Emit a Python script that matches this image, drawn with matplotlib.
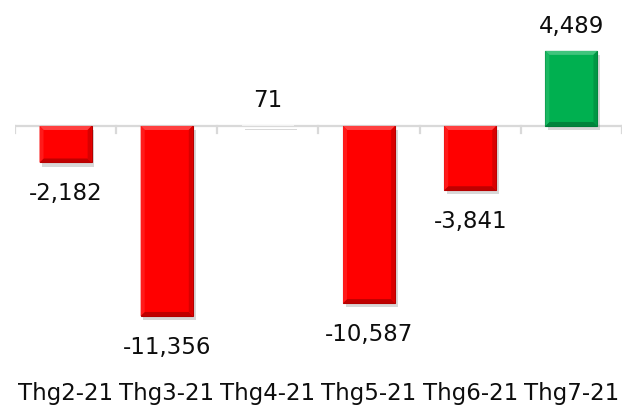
import numpy as np
import matplotlib.pyplot as plt
import matplotlib.patheffects as pe
from matplotlib.patches import Polygon


# DATA

months = ["Thg2-21", "Thg3-21", "Thg4-21", "Thg5-21", "Thg6-21", "Thg7-21"]
values = [-2182, -11356, 71, -10587, -3841, 4489]

RED = "#ff0000"
GREEN = "#00b050"
FS = 16.5


# FIGURE

fig = plt.figure(figsize=(6.35, 4.12), dpi=100)
ax = fig.add_axes([0.0236, 0.1748, 0.9559, 0.8252])

ymin, ymax = -12791, 7531
ax.set_xlim(-0.5, len(months) - 0.5)
ax.set_ylim(ymin, ymax)
ax.axis("off")

# px -> data unit helpers
px_y = (ymax - ymin) / 340.0
px_x = len(months) / 607.0

width = 0.515
shadow = [pe.SimplePatchShadow(offset=(2, -3), shadow_rgbFace="#7f7f7f", alpha=0.3),
          pe.Normal()]

# baseline and tick marks between categories
ax.plot([-0.5, len(months) - 0.5], [0, 0], color="#d9d9d9", lw=1.6, zorder=1)
for b in np.arange(-0.5, len(months), 1.0):
    ax.plot([b, b], [0, -7 * px_y], color="#d9d9d9", lw=1.6, zorder=1)


def shade(c, k):
    c = np.array(plt.matplotlib.colors.to_rgb(c))
    if k > 0:
        return tuple(c + (1 - c) * k)
    return tuple(c * (1 + k))


for i, v in enumerate(values):
    color = GREEN if v >= 0 else RED
    x0, x1 = i - width / 2, i + width / 2
    lo, hi = min(0, v), max(0, v)
    tiny = (hi - lo) < 6 * px_y
    face = "#f2f2f2" if tiny else color
    bars = ax.bar(i, v, width=width, color=face,
                  edgecolor="none" if tiny else shade(color, -0.3),
                  lw=0.8, zorder=2)
    for b in bars:
        b.set_path_effects(shadow)

    # bevel edges
    if not tiny:
        bx = 4 * px_x
        by = 4 * px_y
        bevel = [
            ([(x0, hi), (x1, hi), (x1 - bx, hi - by), (x0 + bx, hi - by)], 0.25),
            ([(x0, lo), (x1, lo), (x1 - bx, lo + by), (x0 + bx, lo + by)], -0.25),
            ([(x0, lo), (x0, hi), (x0 + bx, hi - by), (x0 + bx, lo + by)], 0.1),
            ([(x1, lo), (x1, hi), (x1 - bx, hi - by), (x1 - bx, lo + by)], -0.15),
        ]
        for pts, k in bevel:
            ax.add_patch(Polygon(pts, closed=True, facecolor=shade(color, k),
                                 edgecolor="none", zorder=3))

    # value label, baseline placed so the digits sit centred off the bar end
    ty = v + 18 * px_y if v >= 0 else v - 38 * px_y
    ax.text(i, ty, f"{v:,}", ha="center", va="baseline", fontsize=FS,
            color="#0d0d0d")

# category labels
for i, m in enumerate(months):
    ax.text(i, -(400 - 126) * px_y, m, ha="center", va="baseline",
            fontsize=FS, color="#0d0d0d", clip_on=False)

fig.savefig("out.png", dpi=100)
